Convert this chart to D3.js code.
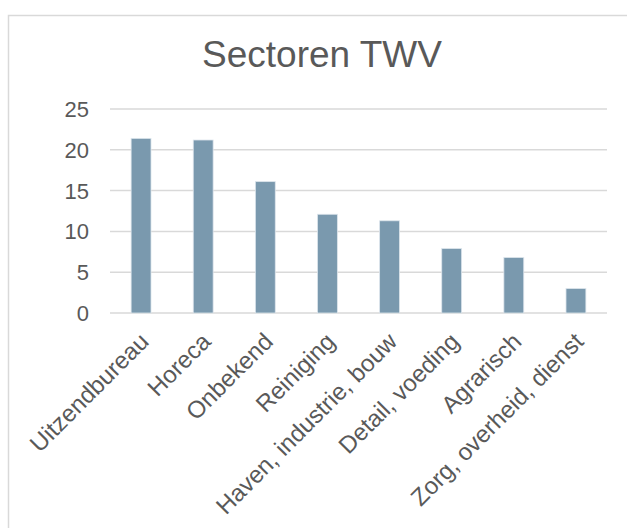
<!DOCTYPE html>
<html>
<head>
<meta charset="utf-8">
<script src="https://cdn.jsdelivr.net/npm/d3@7"></script>
<style>
  body { margin: 0; background: #fff; }
  text { font-family: "Liberation Sans", Arial, sans-serif; fill: #595959; }
</style>
</head>
<body>
<div id="chart"></div>
<script>
// data
var categories = ["Uitzendbureau", "Horeca", "Onbekend", "Reiniging", "Haven, industrie, bouw",
                  "Detail, voeding", "Agrarisch", "Zorg, overheid, dienst"];
var values = [21.4, 21.2, 16.1, 12.1, 11.3, 7.9, 6.8, 3.0];
var yTicks = [0, 5, 10, 15, 20, 25];
var title = "Sectoren TWV";

var width = 627, height = 528;

var svg = d3.select("#chart")
    .append("svg")
    .attr("width", width)
    .attr("height", height);

// chart border (runs off the right and bottom edges)
svg.append("rect")
    .attr("x", 8.5).attr("y", 15.5)
    .attr("width", 700).attr("height", 600)
    .attr("fill", "none")
    .attr("stroke", "#d9d9d9")
    .attr("stroke-width", 1.5);

svg.append("text")
    .attr("x", 322)
    .attr("y", 67)
    .attr("text-anchor", "middle")
    .style("font-size", "37px")
    .text(title);

var x = d3.scaleBand()
    .domain(categories)
    .range([110, 607])
    .paddingInner(0.68)
    .paddingOuter(0.34);

var y = d3.scaleLinear()
    .domain([0, 25])
    .range([313, 109]);

// gridlines
svg.append("g")
    .selectAll("line")
    .data(yTicks)
    .enter()
    .append("line")
    .attr("x1", 110).attr("x2", 607)
    .attr("y1", function (d) { return y(d); })
    .attr("y2", function (d) { return y(d); })
    .attr("stroke", "#d9d9d9")
    .attr("stroke-width", 1.5);

// y tick labels
svg.append("g")
    .selectAll("text")
    .data(yTicks)
    .enter()
    .append("text")
    .attr("x", 89)
    .attr("y", function (d) { return y(d); })
    .attr("dy", "0.36em")
    .attr("text-anchor", "end")
    .style("font-size", "22px")
    .text(function (d) { return d; });

// bars
svg.append("g")
    .selectAll("rect")
    .data(values)
    .enter()
    .append("rect")
    .attr("x", function (d, i) { return x(categories[i]); })
    .attr("width", x.bandwidth())
    .attr("y", function (d) { return y(d); })
    .attr("height", function (d) { return y(0) - y(d); })
    .attr("fill", "#7a99ae")
    .attr("stroke", "#dde5ec")
    .attr("stroke-width", 0.8);

// category labels, rotated
svg.append("g")
    .selectAll("text")
    .data(categories)
    .enter()
    .append("text")
    .attr("transform", function (d) {
        var cx = x(d) + x.bandwidth() / 2 - 3;
        return "translate(" + cx + ",331) rotate(-45)";
    })
    .attr("text-anchor", "end")
    .attr("dy", "0.71em")
    .style("font-size", "24px")
    .text(function (d) { return d; });
</script>
</body>
</html>
